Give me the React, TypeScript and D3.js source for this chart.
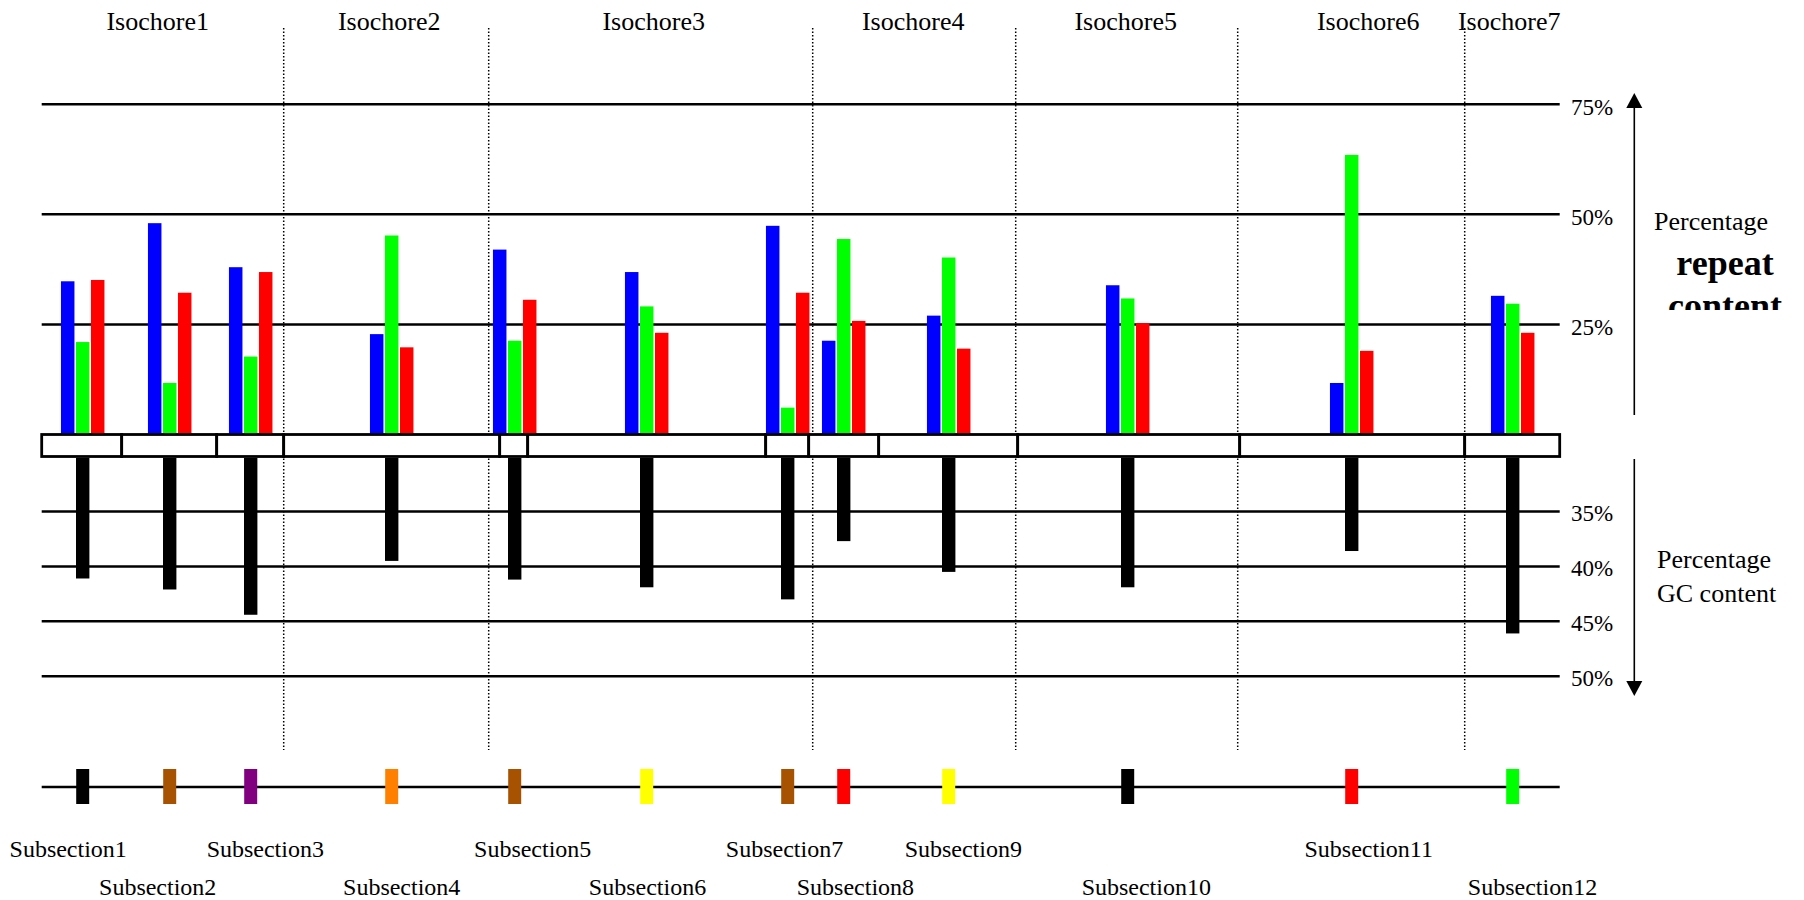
import React from 'react';
import * as d3 from 'd3';

// ---------- data ----------
const isochoreLabels = ['Isochore1', 'Isochore2', 'Isochore3', 'Isochore4', 'Isochore5', 'Isochore6', 'Isochore7'];
// isochore boundaries along the sequence (arbitrary kb units)
const isochoreBounds = [0, 242, 447, 771, 974, 1196, 1423, 1518];
// subsection segment boundaries (kb)
const segmentEdges = [0, 80, 175, 242, 458, 486, 724, 767, 837, 976, 1198, 1423, 1518];
const subsectionLabels = [
  'Subsection1', 'Subsection2', 'Subsection3', 'Subsection4', 'Subsection5', 'Subsection6',
  'Subsection7', 'Subsection8', 'Subsection9', 'Subsection10', 'Subsection11', 'Subsection12',
];
// representative position of each subsection (kb)
const subsectionPos = [41, 128, 209, 350, 473, 605, 746, 802, 907, 1086, 1310, 1471];
const subsectionColors = [
  '#000000', '#A65200', '#800080', '#FF8000', '#A65200', '#FFFF00',
  '#A65200', '#FF0000', '#FFFF00', '#000000', '#FF0000', '#00FF00',
];
// percentage repeat content (three repeat classes)
const repeatBlue = [34.8, 48.0, 38.0, 22.8, 42.0, 36.9, 47.4, 21.3, 27.0, 33.9, 11.7, 31.5];
const repeatGreen = [21.0, 11.7, 17.7, 45.2, 21.3, 29.1, 6.1, 44.4, 40.2, 30.9, 63.5, 29.7];
const repeatRed = [35.1, 32.2, 36.9, 19.8, 30.6, 23.1, 32.2, 25.8, 19.5, 25.3, 19.0, 23.1];
// percentage GC content
const gcContent = [41.1, 42.1, 44.4, 39.5, 41.2, 41.9, 43.0, 37.7, 40.5, 41.9, 38.6, 46.1];

const repeatTicks = [25, 50, 75];
const gcTicks = [35, 40, 45, 50];

// ---------- layout ----------
const W = 1804;
const H = 900;
const FONT = '"Liberation Serif", "Times New Roman", Times, serif';

const x = d3.scaleLinear().domain([0, 1518]).range([41.7, 1559.7]);
const yRep = d3.scaleLinear().domain([0, 75]).range([434.5, 104.3]);
const yGC = d3.scaleLinear().domain([30, 50]).range([456.5, 676.3]);

const BOX_TOP = yRep(0);
const BOX_BOT = yGC(30);
const BAR_W = 13.5;
const BAR_STEP = 15;
const TRACK_Y = 787;
const AXIS_X = 1634.3;
const LABEL_X = 1571;
// hand-placed label nudges (px) relative to their anchors
const isoLabelDx = [-5, 3, 3, -1, -1, 17, -3];
const subLabelDx = [-14.5, -12, 14.6, 10, 18, 0.8, -3.2, 11.7, 14.6, 18.6, 17, 19.8];

export default function App() {
  const series = [
    { vals: repeatBlue, color: '#0000FF', off: -BAR_STEP },
    { vals: repeatGreen, color: '#00FF00', off: 0 },
    { vals: repeatRed, color: '#FF0000', off: BAR_STEP },
  ];
  const x0 = x.range()[0];
  const x1 = x.range()[1];

  return (
    <svg width={W} height={H} style={{ position: 'absolute', left: 0, top: 0, background: '#fff' }}
      fontFamily={FONT}>
      <defs>
        <clipPath id="repClip">
          <rect x={1640} y={150} width={164} height={160} />
        </clipPath>
      </defs>
      <rect x={0} y={0} width={W} height={H} fill="#fff" />

      {/* isochore titles */}
      {isochoreLabels.map((l, i) => (
        <text key={l} x={x((isochoreBounds[i] + isochoreBounds[i + 1]) / 2) + isoLabelDx[i]} y={30}
          fontSize={26} textAnchor="middle" fill="#000">{l}</text>
      ))}

      {/* repeat gridlines */}
      {repeatTicks.map((t) => (
        <g key={'r' + t}>
          <line x1={x0} x2={x1} y1={yRep(t)} y2={yRep(t)} stroke="#000" strokeWidth={2.5} />
          <text x={LABEL_X} y={yRep(t) + 11} fontSize={23} fill="#000">{t}%</text>
        </g>
      ))}

      {/* GC gridlines */}
      {gcTicks.map((t) => (
        <g key={'g' + t}>
          <line x1={x0} x2={x1} y1={yGC(t)} y2={yGC(t)} stroke="#000" strokeWidth={2.5} />
          <text x={LABEL_X} y={yGC(t) + 10} fontSize={23} fill="#000">{t}%</text>
        </g>
      ))}

      {/* isochore separators */}
      {isochoreBounds.slice(1, -1).map((b, i) => (
        <line key={'d' + i} x1={x(b)} x2={x(b)} y1={28} y2={750}
          stroke="#000" strokeWidth={1.5} strokeDasharray="1.5,2" />
      ))}

      {/* repeat bars */}
      {series.map((s, si) =>
        s.vals.map((v, i) => (
          <rect key={'b' + si + '-' + i} x={x(subsectionPos[i]) + s.off - BAR_W / 2} y={yRep(v)}
            width={BAR_W} height={BOX_TOP - yRep(v)} fill={s.color} />
        )))}

      {/* subsection boxes */}
      {segmentEdges.slice(0, -1).map((e, i) => (
        <rect key={'s' + i} x={x(e)} y={BOX_TOP} width={x(segmentEdges[i + 1]) - x(e)}
          height={BOX_BOT - BOX_TOP} fill="#fff" stroke="#000" strokeWidth={2.8} />
      ))}

      {/* GC bars */}
      {gcContent.map((v, i) => (
        <rect key={'gc' + i} x={x(subsectionPos[i]) - 6.7} y={BOX_BOT + 1.4} width={13.4}
          height={yGC(v) - BOX_BOT - 1.4} fill="#000" />
      ))}

      {/* subsection track */}
      <line x1={x0} x2={x1} y1={TRACK_Y} y2={TRACK_Y} stroke="#000" strokeWidth={2.5} />
      {subsectionPos.map((p, i) => (
        <rect key={'m' + i} x={x(p) - 6.5} y={769} width={13} height={35} fill={subsectionColors[i]} />
      ))}
      {subsectionLabels.map((l, i) => (
        <text key={l} x={x(subsectionPos[i]) + subLabelDx[i]} y={i % 2 === 0 ? 857 : 895}
          fontSize={24} textAnchor="middle" fill="#000">{l}</text>
      ))}

      {/* up arrow */}
      <line x1={AXIS_X} x2={AXIS_X} y1={106} y2={415} stroke="#000" strokeWidth={1.6} />
      <path d={`M${AXIS_X},93 L${AXIS_X - 8},108 L${AXIS_X + 8},108 Z`} fill="#000" />
      {/* down arrow */}
      <line x1={AXIS_X} x2={AXIS_X} y1={459} y2={683} stroke="#000" strokeWidth={1.6} />
      <path d={`M${AXIS_X},696 L${AXIS_X - 8},681 L${AXIS_X + 8},681 Z`} fill="#000" />

      {/* right-side titles */}
      <text x={1654} y={230} fontSize={26} fill="#000">Percentage</text>
      <g clipPath="url(#repClip)">
        <text x={1725} y={275} fontSize={36} fontWeight="bold" textAnchor="middle" fill="#000">repeat</text>
        <text x={1725} y={318} fontSize={36} fontWeight="bold" textAnchor="middle" fill="#000">content</text>
      </g>
      <text x={1657} y={568} fontSize={26} fill="#000">Percentage</text>
      <text x={1657} y={602} fontSize={26} fill="#000">GC content</text>
    </svg>
  );
}
